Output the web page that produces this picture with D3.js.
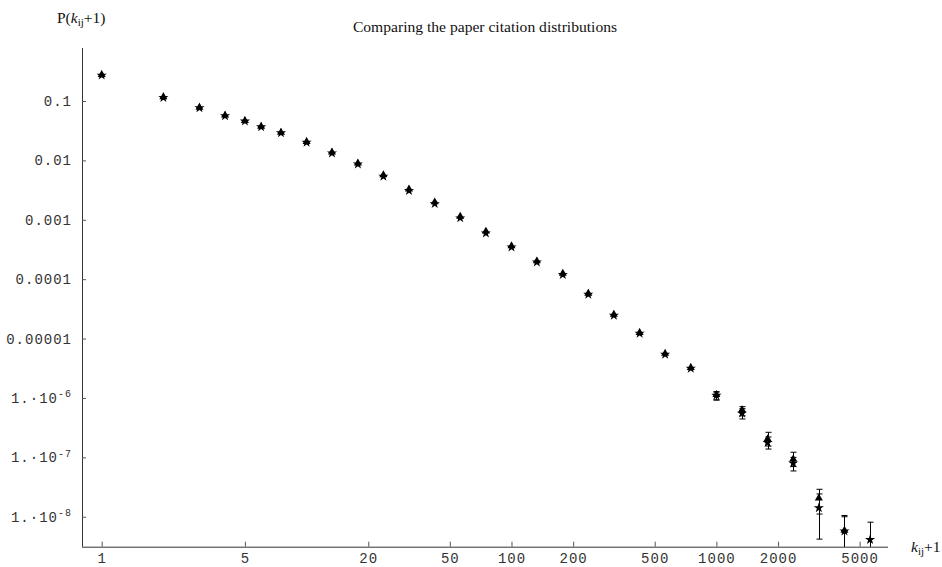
<!DOCTYPE html>
<html>
<head>
<meta charset="utf-8">
<script src="https://cdn.jsdelivr.net/npm/d3@7/dist/d3.min.js"></script>
<style>
  html, body { margin: 0; padding: 0; background: #fff; }
  svg { display: block; }
</style>
</head>
<body>
<svg id="chart" width="942" height="567"></svg>
<script>
// Citation counts (k_ij + 1), binned on a log grid
const kValues = [1, 2, 3, 4, 5, 6, 7.5, 10, 13.3, 17.8, 23.7, 31.6, 42.2, 56.2, 75, 100,
  133, 178, 237, 316, 422, 562, 750, 1000, 1334, 1778, 2371, 3162, 4217, 5623];

// Series A (triangles): probability per bin
const probTriangle = [0.277, 0.117, 0.0778, 0.0575, 0.0466, 0.0374, 0.0296, 0.0207,
  0.0138, 0.00900, 0.00570, 0.00328, 0.00199, 0.00114, 0.000640, 0.000362,
  0.000202, 0.000125, 5.75e-5, 2.56e-5, 1.26e-5, 5.6e-6, 3.25e-6, 1.14e-6,
  6.28e-7, 2.04e-7, 9.3e-8, 2.05e-8, 5.9e-9, null];
// Series B (stars): probability per bin
const probStar = [0.271, 0.114, 0.0765, 0.0560, 0.0456, 0.0365, 0.0289, 0.0201,
  0.0132, 0.00862, 0.00536, 0.00310, 0.00186, 0.00107, 0.000595, 0.000345,
  0.000193, 0.000119, 5.55e-5, 2.46e-5, 1.22e-5, 5.4e-6, 3.15e-6, 1.10e-6,
  5.52e-7, 1.77e-7, 7.96e-8, 1.41e-8, 5.7e-9, 4.1e-9];

// Error bar bounds [low, high] (null where the bar hides behind the marker)
const errTriangle = [null, null, null, null, null, null, null, null, null, null, null, null,
  null, null, null, null, null, null, null, null, null, null, null, [0.93e-6, 1.28e-6],
  [5.0e-7, 7.14e-7], [1.55e-7, 2.64e-7], [7.0e-8, 1.22e-7], [4.2e-9, 2.9e-8], [1.0e-9, 1.05e-8], null];
const errStar = [null, null, null, null, null, null, null, null, null, null, null, null,
  null, null, null, null, null, null, null, null, null, null, null, [0.92e-6, 1.25e-6],
  [4.43e-7, 6.6e-7], [1.38e-7, 2.2e-7], [5.9e-8, 1.0e-7], [1.11e-8, 2.42e-8], [1.0e-9, 1.0e-8], [1.0e-10, 8.1e-9]];

// Axis ticks
const xTicks = [1, 5, 20, 50, 100, 200, 500, 1000, 2000, 5000];
const yTicks = [0.1, 0.01, 0.001, 0.0001, 0.00001, 1e-6, 1e-7, 1e-8];
const yTickLabels = ["0.1", "0.01", "0.001", "0.0001", "0.00001", "1.·10|-6", "1.·10|-7", "1.·10|-8"];

const svg = d3.select("#chart");
const plotLeft = 82, plotRight = 888, plotTop = 48, plotBottom = 546.7;

const x = d3.scaleLog().domain([0.8015, 6879]).range([plotLeft, plotRight]);
const y = d3.scaleLog().domain([3.13e-9, 0.7807]).range([plotBottom, plotTop]);

const axisColor = "#333";
const monoFont = "'Liberation Mono', 'DejaVu Sans Mono', monospace";
const serifFont = "'Liberation Serif', 'Times New Roman', serif";

// Title
svg.append("text")
  .attr("x", 485).attr("y", 32)
  .attr("text-anchor", "middle")
  .attr("font-family", serifFont).attr("font-size", 15.6)
  .attr("fill", "#111")
  .text("Comparing the paper citation distributions");

// Y axis
const yAxis = svg.append("g")
  .attr("transform", `translate(${plotLeft},0)`)
  .call(d3.axisLeft(y).tickValues(yTicks).tickSize(-4).tickPadding(10)
    .tickFormat((d, i) => yTickLabels[i]));
yAxis.select(".domain").attr("stroke", axisColor).attr("d", `M0.5,${plotTop}V${plotBottom}`);
yAxis.selectAll(".tick line").attr("stroke", "#555");
yAxis.selectAll(".tick text")
  .attr("font-family", monoFont).attr("font-size", 14).attr("letter-spacing", 1)
  .attr("fill", "#333")
  .each(function () {
    const t = d3.select(this);
    const parts = t.text().split("|");
    if (parts.length === 2) {
      t.text(null);
      t.append("tspan").text(parts[0]);
      t.append("tspan").attr("dy", "-0.55em").attr("font-size", 10).text(parts[1]);
    }
  });

// X axis
const xAxis = svg.append("g")
  .attr("transform", `translate(0,${plotBottom})`)
  .call(d3.axisBottom(x).tickValues(xTicks).tickSize(-5).tickPadding(6)
    .tickFormat(d3.format("d")));
xAxis.select(".domain").attr("stroke", axisColor).attr("d", `M${plotLeft},0.5H${plotRight}`);
xAxis.selectAll(".tick line").attr("stroke", "#555");
xAxis.selectAll(".tick text")
  .attr("font-family", monoFont).attr("font-size", 14).attr("letter-spacing", 1)
  .attr("fill", "#333");

// Axis labels
const yLabel = svg.append("text")
  .attr("x", 57).attr("y", 23)
  .attr("font-family", serifFont).attr("font-size", 15.5).attr("fill", "#111");
yLabel.append("tspan").text("P(");
yLabel.append("tspan").attr("font-style", "italic").text("k");
yLabel.append("tspan").attr("font-size", 11).attr("dy", 3).text("ij");
yLabel.append("tspan").attr("dy", -3).text("+1)");

const xLabel = svg.append("text")
  .attr("x", 911).attr("y", 552)
  .attr("font-family", serifFont).attr("font-size", 15.5).attr("fill", "#111");
xLabel.append("tspan").attr("font-style", "italic").text("k");
xLabel.append("tspan").attr("font-size", 11).attr("dy", 3).text("ij");
xLabel.append("tspan").attr("dy", -3).text("+1");

// Plot area clip
svg.append("clipPath").attr("id", "plot-clip")
  .append("rect").attr("x", plotLeft).attr("y", plotTop - 10)
  .attr("width", plotRight - plotLeft + 10).attr("height", plotBottom - plotTop + 10);

const plot = svg.append("g").attr("clip-path", "url(#plot-clip)");

function drawErrors(errs) {
  const rows = kValues.map((k, i) => ({ k, e: errs[i] })).filter(d => d.e);
  const g = plot.append("g").attr("stroke", "#000").attr("stroke-width", 1);
  rows.forEach(d => {
    const cx = Math.round(x(d.k)) + 0.5;
    const y0 = y(d.e[0]), y1 = y(d.e[1]);
    g.append("line").attr("x1", cx).attr("x2", cx).attr("y1", y0).attr("y2", y1);
    g.append("line").attr("x1", cx - 3).attr("x2", cx + 3).attr("y1", y0).attr("y2", y0);
    g.append("line").attr("x1", cx - 3).attr("x2", cx + 3).attr("y1", y1).attr("y2", y1);
  });
}
drawErrors(errTriangle);
drawErrors(errStar);

function drawMarkers(values, symbol, size) {
  plot.append("g").selectAll("path")
    .data(kValues.map((k, i) => ({ k, v: values[i] })).filter(d => d.v != null))
    .join("path")
    .attr("d", d3.symbol().type(symbol).size(size))
    .attr("transform", d => `translate(${x(d.k)},${y(d.v)})`)
    .attr("fill", "#000");
}
drawMarkers(probTriangle, d3.symbolTriangle, 28);
drawMarkers(probStar, d3.symbolStar, 32);
</script>
</body>
</html>
